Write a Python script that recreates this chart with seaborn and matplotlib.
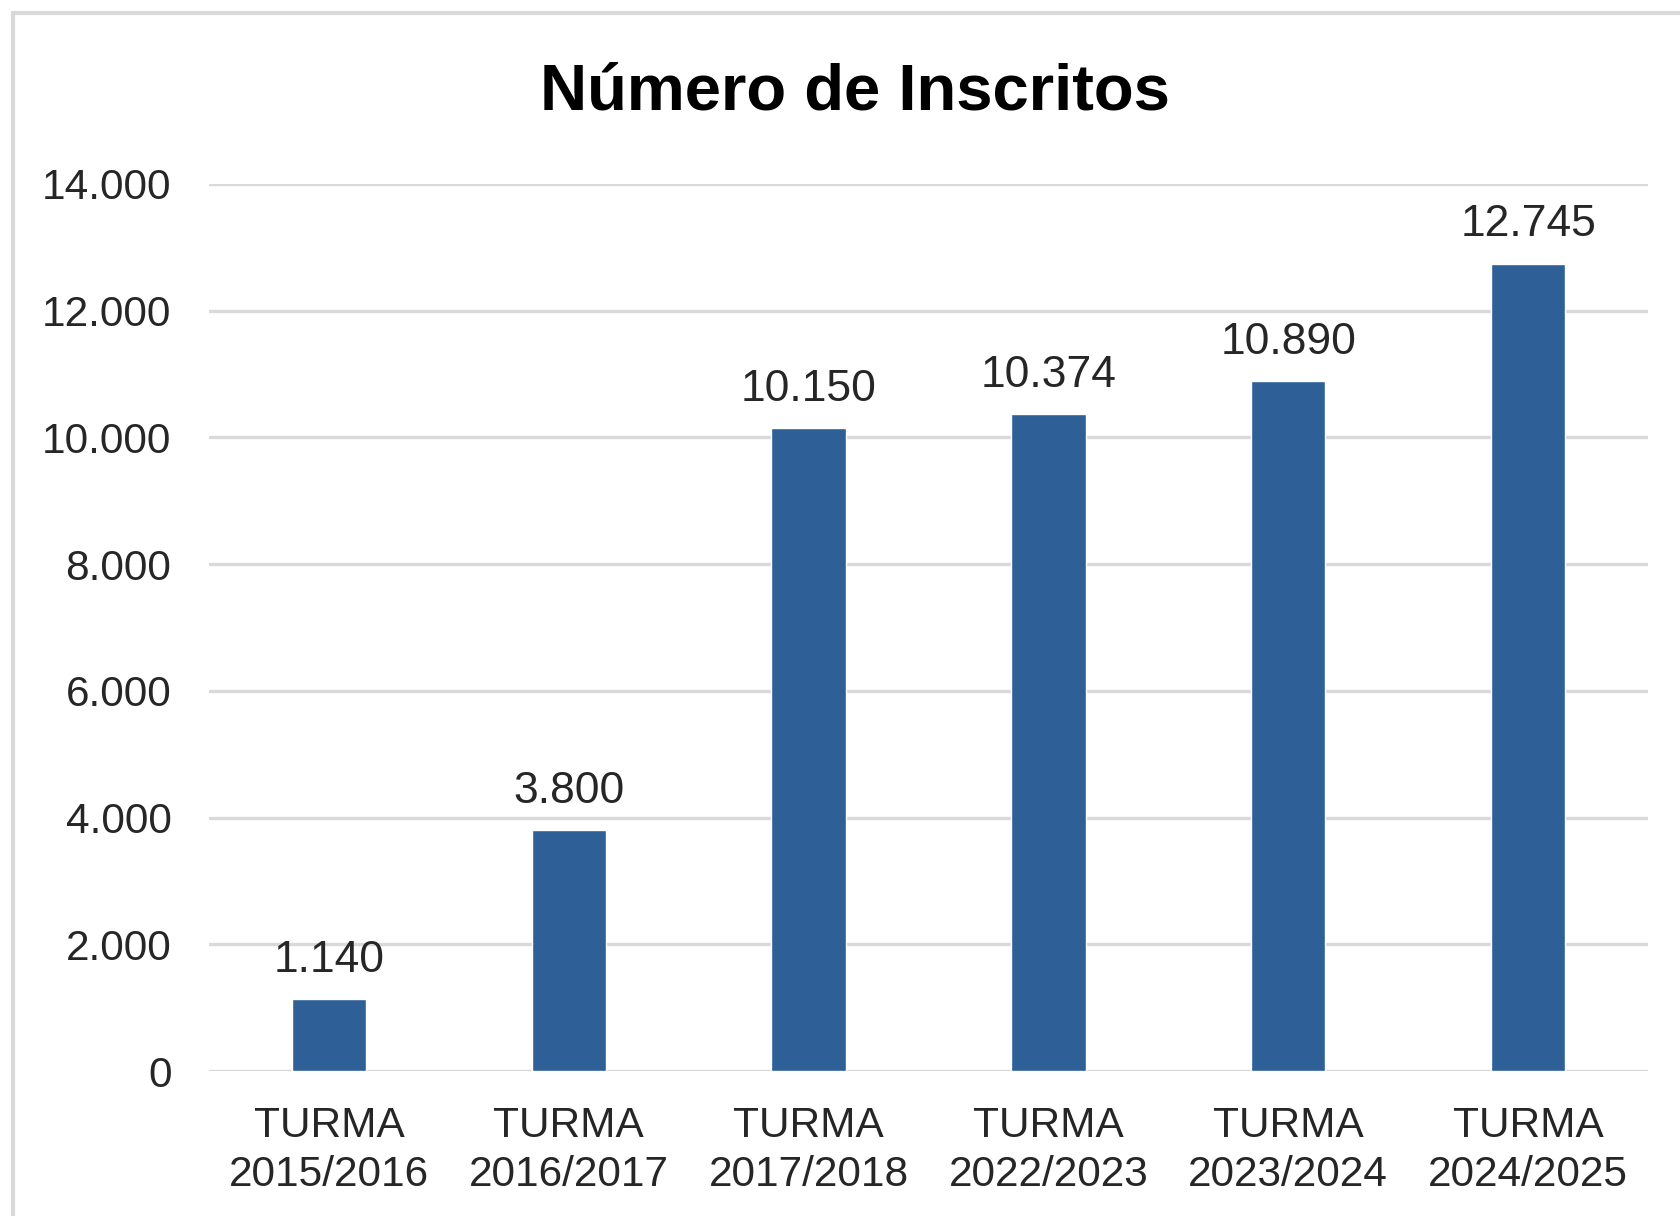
import seaborn as sns
import numpy as np
import matplotlib.pyplot as plt
import pandas as pd
from matplotlib.lines import Line2D
from matplotlib.ticker import FuncFormatter

# dados do grafico
turmas = ["TURMA\n2015/2016", "TURMA\n2016/2017", "TURMA\n2017/2018",
          "TURMA\n2022/2023", "TURMA\n2023/2024", "TURMA\n2024/2025"]
inscritos = [1140, 3800, 10150, 10374, 10890, 12745]
y_ticks = [0, 2000, 4000, 6000, 8000, 10000, 12000, 14000]
titulo = "Número de Inscritos"


def fmt_pt(v, pos=None):
    """Formata numero com ponto como separador de milhar."""
    return "{:,.0f}".format(v).replace(",", ".")


sns.set_style("white")
plt.rcParams["font.family"] = ["Liberation Sans", "DejaVu Sans"]

df = pd.DataFrame({"turma": turmas, "inscritos": inscritos})

fig = plt.figure(figsize=(16.8, 12.16), dpi=100)
ax = fig.add_axes([0.1244, 0.1192, 0.8566, 0.7295])

sns.barplot(data=df, x="turma", y="inscritos", color="#2E5F97",
            saturation=1, width=0.31, ax=ax, zorder=3)

ax.set_ylim(0, 14000)
ax.set_yticks(y_ticks)
ax.yaxis.set_major_formatter(FuncFormatter(fmt_pt))
ax.grid(axis="y", color="#D9D9D9", linewidth=2.4, zorder=0)
ax.set_axisbelow(True)
sns.despine(ax=ax, left=True, bottom=True, top=True, right=True)

ax.set_xlabel("")
ax.set_ylabel("")
ax.tick_params(axis="y", length=0, pad=27, labelsize=30.5, labelcolor="#262626")
ax.tick_params(axis="x", length=0, pad=25, labelsize=30.5, labelcolor="#262626")
for lbl in ax.get_xticklabels():
    lbl.set_linespacing(1.3)

ax.bar_label(ax.containers[0], labels=[fmt_pt(v) for v in inscritos],
             padding=13, fontsize=32, color="#262626")

fig.text(0.509, 0.924, titulo, ha="center", va="center",
         fontsize=47, fontweight="bold", color="black")

# moldura cinza (esquerda e topo)
borda = "#D9D9D9"
fig.add_artist(Line2D([13 / 1680, 13 / 1680], [0, 1 - 13 / 1216],
                      color=borda, linewidth=3, transform=fig.transFigure))
fig.add_artist(Line2D([13 / 1680, 1], [1 - 13 / 1216, 1 - 13 / 1216],
                      color=borda, linewidth=3, transform=fig.transFigure))

fig.savefig("out.png", dpi=100)
